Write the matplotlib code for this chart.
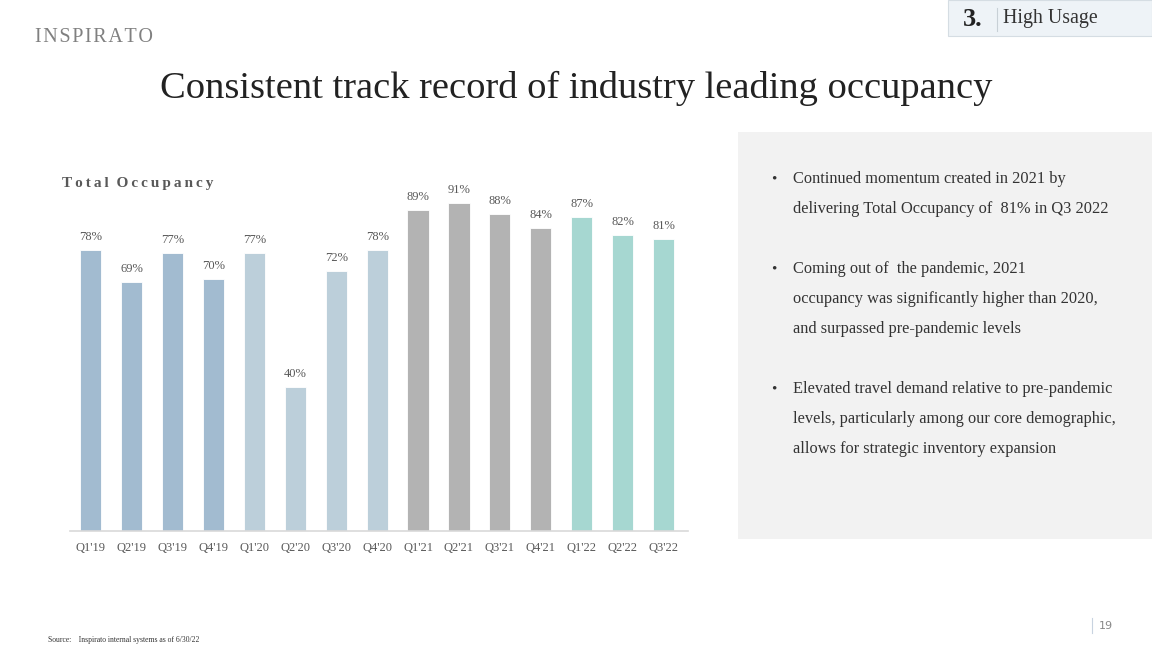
import matplotlib.pyplot as plt
from matplotlib.patches import Rectangle

plt.rcParams['font.family'] = ['Liberation Serif', 'DejaVu Serif']

quarters = ["Q1'19", "Q2'19", "Q3'19", "Q4'19", "Q1'20", "Q2'20", "Q3'20", "Q4'20",
            "Q1'21", "Q2'21", "Q3'21", "Q4'21", "Q1'22", "Q2'22", "Q3'22"]
occupancy = [78, 69, 77, 70, 77, 40, 72, 78, 89, 91, 88, 84, 87, 82, 81]
years = ['2019'] * 4 + ['2020'] * 4 + ['2021'] * 4 + ['2022'] * 3
year_colors = {'2019': '#a2bbd0', '2020': '#bccfda', '2021': '#b3b3b3', '2022': '#a6d7d1'}

bullets = [
    ["Continued momentum created in 2021 by",
     "delivering Total Occupancy of  81% in Q3 2022"],
    ["Coming out of  the pandemic, 2021",
     "occupancy was significantly higher than 2020,",
     "and surpassed pre-pandemic levels"],
    ["Elevated travel demand relative to pre-pandemic",
     "levels, particularly among our core demographic,",
     "allows for strategic inventory expansion"],
]

W, H = 1152, 648
fig = plt.figure(figsize=(W / 100, H / 100), dpi=100)

def fx(px):
    return px / W

def fy(py):
    return 1 - py / H

def spaced(s, gap='\u2009'):
    return gap.join(s).replace(gap + ' ' + gap, '  ')

# grey panel on the right
fig.patches.append(Rectangle((fx(738), fy(539)), fx(1152 - 738), (539 - 132) / H,
                             transform=fig.transFigure, facecolor='#f2f2f2',
                             edgecolor='none', zorder=0))

# badge top right
fig.patches.append(Rectangle((fx(948), fy(36)), fx(1152 - 948), 36 / H,
                             transform=fig.transFigure, facecolor='#eef3f7',
                             edgecolor='#d5dde3', linewidth=0.8, zorder=0))
fig.text(fx(973), fy(19), '3.', fontsize=19, fontweight='bold', color='#222222',
         ha='center', va='center')
fig.lines.append(plt.Line2D([fx(997), fx(997)], [fy(8), fy(31)], transform=fig.transFigure,
                            color='#c8d0d6', linewidth=0.8))
fig.text(fx(1003), fy(19), 'High Usage', fontsize=14.3, color='#333333', va='center')

# logo
fig.text(fx(35), fy(37), spaced('INSPIRATO', '\u200a'), fontsize=14.5, color='#808080',
         va='center', ha='left')

# title
fig.text(0.5, fy(88), 'Consistent track record of industry leading occupancy',
         fontsize=27.7, color='#222222', ha='center', va='center')

# chart
ax = fig.add_axes([fx(70), fy(531), fx(688 - 70), (531 - 170.5) / H])
x = range(len(quarters))
colors = [year_colors[y] for y in years]
ax.bar(x, occupancy, width=0.52, color=colors, edgecolor='white', linewidth=0.6)
for xi, v in zip(x, occupancy):
    ax.annotate(f'{v}%', (xi, v), xytext=(0, 5), textcoords='offset points',
                ha='center', va='bottom', fontsize=9, color='#595959')
ax.set_xlim(-0.51, 14.6)
ax.set_ylim(0, 100)
ax.set_xticks(list(x))
ax.set_xticklabels(quarters, fontsize=9, color='#595959')
ax.tick_params(axis='x', length=0, pad=8)
ax.set_yticks([])
for s in ['top', 'right', 'left']:
    ax.spines[s].set_visible(False)
ax.spines['bottom'].set_color('#d9d9d9')
ax.spines['bottom'].set_linewidth(1.2)
ax.set_facecolor('none')

fig.text(fx(62), fy(183), spaced('Total Occupancy'), fontsize=11, fontweight='bold',
         color='#595959', va='center', ha='left')

# bullets
y0 = 179
for group in bullets:
    fig.text(fx(771), fy(y0), '•', fontsize=11, color='#333333', va='center', ha='left')
    for line in group:
        fig.text(fx(793), fy(y0), line, fontsize=11.8, color='#333333', va='center', ha='left')
        y0 += 30
    y0 += 30

# footer
fig.text(fx(48), fy(640), 'Source:    Inspirato internal systems as of 6/30/22', fontsize=5.5,
         color='#333333', va='center')
fig.lines.append(plt.Line2D([fx(1092), fx(1092)], [fy(618), fy(633)], transform=fig.transFigure,
                            color='#c8d3e0', linewidth=0.8))
fig.text(fx(1099), fy(626), '19', fontsize=8, color='#888888', va='center',
         fontfamily='DejaVu Sans')

fig.savefig('out.png', dpi=100)
